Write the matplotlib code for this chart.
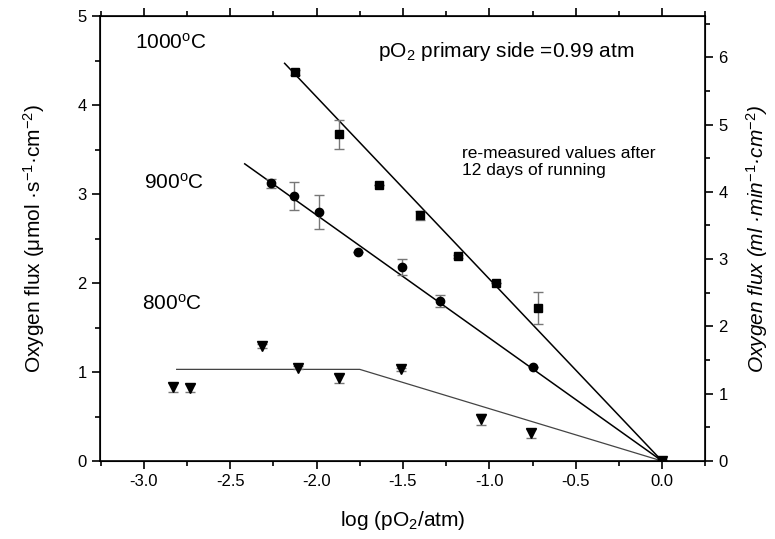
import matplotlib
matplotlib.use("Agg")
import matplotlib.pyplot as plt
from matplotlib.ticker import MultipleLocator

plt.rcParams["font.family"] = ["Liberation Sans", "DejaVu Sans"]
plt.rcParams["mathtext.fontset"] = "custom"
plt.rcParams["mathtext.rm"] = "Liberation Sans"
plt.rcParams["mathtext.it"] = "Liberation Sans:italic"

# 1000 C (squares)
x1000 = [-2.127, -1.873, -1.64, -1.40, -1.18, -0.96, -0.72, 0.0]
y1000 = [4.37, 3.67, 3.10, 2.76, 2.30, 2.00, 1.72, 0.0]
e1000 = [0.03, 0.16, 0.0, 0.05, 0.02, 0.0, 0.18, 0.0]
fit1000_x = [-2.185, 0.0]
fit1000_y = [4.47, 0.0]

# 900 C (circles)
x900 = [-2.266, -2.133, -1.988, -1.763, -1.503, -1.283, -0.746, 0.0]
y900 = [3.12, 2.98, 2.80, 2.35, 2.18, 1.80, 1.06, 0.0]
e900 = [0.05, 0.16, 0.19, 0.0, 0.09, 0.07, 0.0, 0.0]
fit900_x = [-2.416, 0.0]
fit900_y = [3.34, 0.0]

# 800 C (down triangles)
x800 = [-2.83, -2.734, -2.318, -2.11, -1.87, -1.509, -1.05, -0.76, 0.0]
y800 = [0.83, 0.82, 1.29, 1.05, 0.93, 1.03, 0.47, 0.31, 0.0]
e800 = [0.05, 0.04, 0.02, 0.02, 0.05, 0.02, 0.06, 0.05, 0.0]
fit800_x = [-2.81, -1.75, 0.0]
fit800_y = [1.03, 1.03, 0.0]

fig = plt.figure(figsize=(7.75, 5.39), dpi=100)
ax = fig.add_axes([0.129, 0.1447, 0.781, 0.8253])

ax.plot(fit1000_x, fit1000_y, color="black", lw=1.1)
ax.plot(fit900_x, fit900_y, color="black", lw=1.1)
ax.plot(fit800_x, fit800_y, color="#444444", lw=0.9)

ekw = dict(ls="none", color="black", ecolor="#777777", elinewidth=1, capsize=3.5, capthick=1)
ax.errorbar(x1000, y1000, yerr=e1000, marker="s", ms=5.5, **ekw)
ax.errorbar(x900, y900, yerr=e900, marker="o", ms=6, **ekw)
ax.errorbar(x800, y800, yerr=e800, marker="v", ms=7, **ekw)

ax.set_xlim(-3.254, 0.25)
ax.set_ylim(0, 5)
ax.xaxis.set_major_locator(MultipleLocator(0.5))
ax.xaxis.set_minor_locator(MultipleLocator(0.25))
ax.yaxis.set_major_locator(MultipleLocator(1))
ax.yaxis.set_minor_locator(MultipleLocator(0.5))
ax.xaxis.set_major_formatter(matplotlib.ticker.FuncFormatter(lambda v, p: "%.1f" % v))
ax.tick_params(which="both", direction="out", top=True, labelsize=12, width=1.2)
ax.tick_params(which="major", length=6)
ax.tick_params(which="minor", length=3.5)
for s in ax.spines.values():
    s.set_linewidth(1.2)

ax.set_xlabel("log (pO$_2$/atm)", fontsize=15, labelpad=14)
ax.set_ylabel("Oxygen flux (μmol ·s$^{-1}$·cm$^{-2}$)", fontsize=15, labelpad=22)

ax2 = ax.twinx()
ax2.set_ylim(0, 6.61)
ax2.yaxis.set_major_locator(MultipleLocator(1))
ax2.yaxis.set_minor_locator(MultipleLocator(0.5))
ax2.tick_params(which="both", direction="out", labelsize=12, width=1.2)
ax2.tick_params(which="major", length=6)
ax2.tick_params(which="minor", length=3.5)
ax2.set_ylabel("Oxygen flux ($ml$ ·min$^{-1}$·cm$^{-2}$)", fontsize=15,
               style="italic", labelpad=12)

ax.text(-3.05, 4.70, "1000$^{\\mathrm{o}}$C", fontsize=15, va="center")
ax.text(-3.0, 3.13, "900$^{\\mathrm{o}}$C", fontsize=15, va="center")
ax.text(-3.01, 1.77, "800$^{\\mathrm{o}}$C", fontsize=15, va="center")
ax.text(-1.647, 4.60, "pO$_2$ primary side =0.99 atm", fontsize=15, va="center")
ax.text(-1.156, 3.36, "re-measured values after\n12 days of running", fontsize=12.5,
        va="center", linespacing=1.2)

fig.savefig("out.png", dpi=100)
